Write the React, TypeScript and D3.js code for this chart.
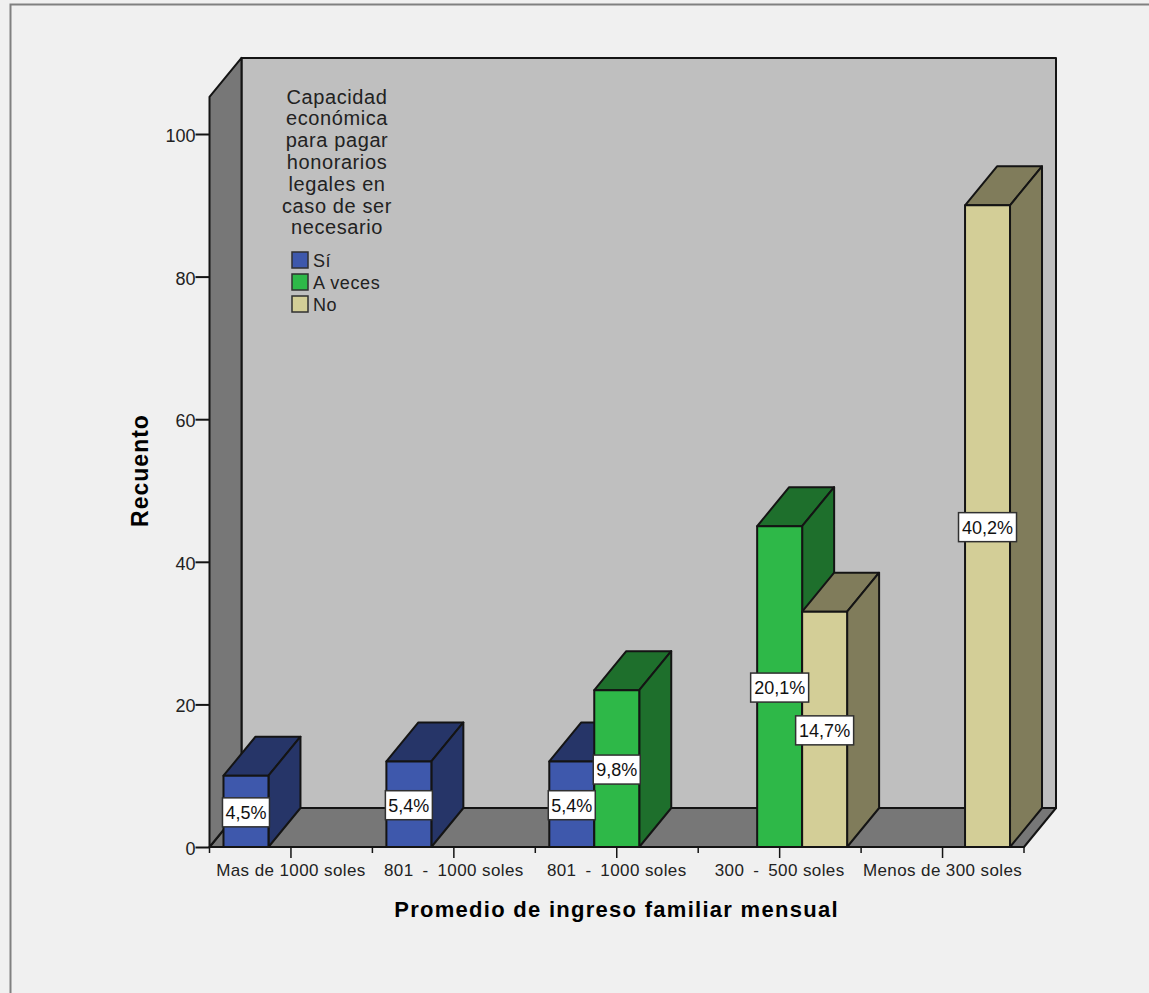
import React, { useEffect, useRef } from "react";
import * as d3 from "d3";

const categories = [
  "Mas de 1000 soles",
  "801 \u2009-\u2009 1000 soles",
  "801 \u2009-\u2009 1000 soles",
  "300 \u2009-\u2009 500 soles",
  "Menos de 300 soles",
];
const seriesNames = ["Sí", "A veces", "No"];
const siValues = [10, 12, 12, 0, 0];
const aVecesValues = [0, 0, 22, 45, 0];
const noValues = [0, 0, 0, 33, 90];
const siLabels = ["4,5%", "5,4%", "5,4%", "", ""];
const aVecesLabels = ["", "", "9,8%", "20,1%", ""];
const noLabels = ["", "", "", "14,7%", "40,2%"];
const yTicks = [0, 20, 40, 60, 80, 100];
const legendTitle = [
  "Capacidad",
  "económica",
  "para pagar",
  "honorarios",
  "legales en",
  "caso de ser",
  "necesario",
];

const frontColors = ["#3e58ac", "#2eb848", "#d3ce97"];
const sideColors = ["#263568", "#1e6f2c", "#807c5b"];
const FONT = "'Liberation Sans', Arial, sans-serif";
const INK = "#141414";

const App: React.FC = () => {
  const svgRef = useRef<SVGSVGElement | null>(null);

  const width = 1149;
  const height = 993;

  useEffect(() => {
    const svg = d3.select(svgRef.current);
    svg.selectAll("*").remove();

    const x0 = 209.5;
    const x1 = 1024;
    const y0 = 847;
    const depthX = 32;
    const depthY = 39;

    const xScale = d3
      .scaleBand<number>()
      .domain(categories.map((_, i) => i))
      .range([x0, x1]);
    const yScale = d3.scaleLinear().domain([0, 100]).range([y0, 134]);
    const slot = d3
      .scaleBand<number>()
      .domain([0, 1, 2])
      .range([0, xScale.bandwidth()])
      .paddingOuter(0.311)
      .paddingInner(0);

    const topY = yScale(105.2);
    const poly = (pts: number[][]) => pts.map((p) => p.join(",")).join(" ");

    // page background and frame
    svg.append("rect").attr("width", width).attr("height", height).attr("fill", "#f0f0f0");
    svg
      .append("path")
      .attr("d", `M10.5,${height} V4.5 H${width}`)
      .attr("fill", "none")
      .attr("stroke", "#808080")
      .attr("stroke-width", 2);

    const walls = svg
      .append("g")
      .attr("stroke", INK)
      .attr("stroke-width", 2)
      .attr("stroke-linejoin", "round");
    walls
      .append("polygon")
      .attr("points", poly([
        [x0 + depthX, topY - depthY],
        [x1 + depthX, topY - depthY],
        [x1 + depthX, y0 - depthY],
        [x0 + depthX, y0 - depthY],
      ]))
      .attr("fill", "#bfbfbf");
    walls
      .append("polygon")
      .attr("points", poly([
        [x0, y0],
        [x0 + depthX, y0 - depthY],
        [x1 + depthX, y0 - depthY],
        [x1, y0],
      ]))
      .attr("fill", "#777777");
    walls
      .append("polygon")
      .attr("points", poly([
        [x0, topY],
        [x0 + depthX, topY - depthY],
        [x0 + depthX, y0 - depthY],
        [x0, y0],
      ]))
      .attr("fill", "#777777");

    // axes
    const yAxis = d3
      .axisLeft(yScale)
      .tickValues(yTicks)
      .tickSize(14)
      .tickPadding(0)
      .tickSizeOuter(0);
    const gy = svg.append("g").attr("transform", `translate(${x0},0)`).call(yAxis);
    gy.select(".domain").remove();
    gy.selectAll(".tick line").attr("stroke", INK).attr("stroke-width", 2);
    gy.selectAll(".tick text")
      .attr("font-family", FONT)
      .attr("font-size", 18)
      .attr("dy", "0.42em")
      .attr("fill", "#222");

    const xAxis = d3
      .axisBottom(xScale)
      .tickSize(11)
      .tickPadding(6)
      .tickFormat((i) => categories[i as number]);
    const gx = svg.append("g").attr("transform", `translate(0,${y0})`).call(xAxis);
    gx.select(".domain").remove();
    gx.selectAll(".tick line").attr("stroke", INK).attr("stroke-width", 1.5);
    gx.selectAll(".tick text")
      .attr("font-family", FONT)
      .attr("font-size", 17)
      .attr("letter-spacing", 0.4)
      .attr("fill", "#222");

    const edges = [...categories.map((_, i) => xScale(i) as number), x1];
    svg
      .append("g")
      .selectAll("line")
      .data(edges)
      .join("line")
      .attr("x1", (d) => d)
      .attr("x2", (d) => d)
      .attr("y1", y0)
      .attr("y2", y0 + 6)
      .attr("stroke", INK)
      .attr("stroke-width", 1.5);

    svg
      .append("line")
      .attr("x1", x0)
      .attr("x2", x1)
      .attr("y1", y0)
      .attr("y2", y0)
      .attr("stroke", INK)
      .attr("stroke-width", 2);

    // bars, drawn left to right so the nearer faces overlap properly
    const allValues = [siValues, aVecesValues, noValues];
    const allLabels = [siLabels, aVecesLabels, noLabels];
    const bars: { cat: number; s: number; value: number; label: string }[] = [];
    categories.forEach((_, cat) => {
      allValues.forEach((vals, s) => {
        if (vals[cat] > 0) bars.push({ cat, s, value: vals[cat], label: allLabels[s][cat] });
      });
    });

    const barGroup = svg
      .append("g")
      .attr("stroke", INK)
      .attr("stroke-width", 2)
      .attr("stroke-linejoin", "round");
    bars.forEach((b) => {
      const left = (xScale(b.cat) as number) + (slot(b.s) as number);
      const right = left + slot.bandwidth();
      const top = yScale(b.value);
      barGroup
        .append("polygon")
        .attr("points", poly([
          [left, top],
          [left + depthX, top - depthY],
          [right + depthX, top - depthY],
          [right, top],
        ]))
        .attr("fill", sideColors[b.s]);
      barGroup
        .append("polygon")
        .attr("points", poly([
          [right, top],
          [right + depthX, top - depthY],
          [right + depthX, y0 - depthY],
          [right, y0],
        ]))
        .attr("fill", sideColors[b.s]);
      barGroup
        .append("rect")
        .attr("x", left)
        .attr("y", top)
        .attr("width", right - left)
        .attr("height", y0 - top)
        .attr("fill", frontColors[b.s]);
    });

    // percent labels
    const labelGroup = svg.append("g");
    bars.forEach((b) => {
      const cx = (xScale(b.cat) as number) + (slot(b.s) as number) + slot.bandwidth() / 2;
      const cy = yScale(b.value / 2) + 1;
      const w = b.label.length > 4 ? 58 : 47;
      labelGroup
        .append("rect")
        .attr("x", cx - w / 2)
        .attr("y", cy - 14.5)
        .attr("width", w)
        .attr("height", 29)
        .attr("fill", "#ffffff")
        .attr("stroke", "#303030")
        .attr("stroke-width", 1.5);
      labelGroup
        .append("text")
        .attr("x", cx)
        .attr("y", cy + 6.5)
        .attr("text-anchor", "middle")
        .attr("font-family", FONT)
        .attr("font-size", 18)
        .attr("fill", "#111")
        .text(b.label);
    });

    // legend
    svg
      .append("g")
      .selectAll("text")
      .data(legendTitle)
      .join("text")
      .attr("x", 337)
      .attr("y", (_, i) => 103.5 + i * 21.8)
      .attr("text-anchor", "middle")
      .attr("font-family", FONT)
      .attr("font-size", 20)
      .attr("letter-spacing", 0.6)
      .attr("fill", "#222")
      .text((d) => d);

    const legendRows = svg
      .append("g")
      .selectAll("g")
      .data(seriesNames)
      .join("g")
      .attr("transform", (_, i) => `translate(292,${252 + i * 22})`);
    legendRows
      .append("rect")
      .attr("width", 16)
      .attr("height", 16)
      .attr("fill", (_, i) => frontColors[i])
      .attr("stroke", "#303030")
      .attr("stroke-width", 1.5);
    legendRows
      .append("text")
      .attr("x", 21)
      .attr("y", 15)
      .attr("font-family", FONT)
      .attr("font-size", 18)
      .attr("letter-spacing", 0.6)
      .attr("fill", "#222")
      .text((d) => d);

    // axis titles
    svg
      .append("text")
      .attr("x", 616.5)
      .attr("y", 917)
      .attr("text-anchor", "middle")
      .attr("font-family", FONT)
      .attr("font-size", 22)
      .attr("font-weight", "bold")
      .attr("letter-spacing", 1.28)
      .attr("fill", "#000")
      .text("Promedio de ingreso familiar mensual");
    svg
      .append("text")
      .attr("transform", "translate(148,470.5) rotate(-90)")
      .attr("text-anchor", "middle")
      .attr("font-family", FONT)
      .attr("font-size", 23)
      .attr("font-weight", "bold")
      .attr("letter-spacing", 1)
      .attr("fill", "#000")
      .text("Recuento");
  }, []);

  return (
    <svg
      ref={svgRef}
      width={width}
      height={height}
      style={{ position: "absolute", left: 0, top: 0, display: "block" }}
    ></svg>
  );
};

export default App;
